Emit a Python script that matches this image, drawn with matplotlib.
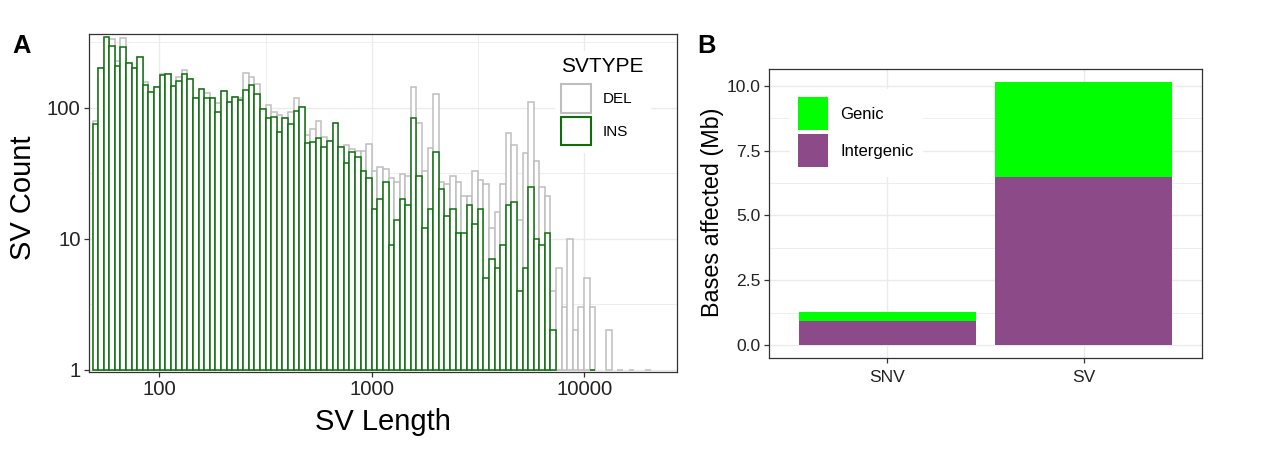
import numpy as np
import matplotlib
matplotlib.use('Agg')
import matplotlib.pyplot as plt
from matplotlib.patches import Patch
from matplotlib.ticker import FixedLocator, NullFormatter

plt.rcParams['font.family'] = ['Liberation Sans', 'DejaVu Sans']

# ---------------- Panel A data: SV length histogram (100 log-spaced bins) ----------------
SV_MIN_LEN = 50
SV_MAX_LEN = 20000
N_BINS = 100
svtype_labels = ['DEL', 'INS']
del_counts = [79, 200, 340, 332, 228, 339, 218, 200, 245, 158,
              132, 143, 182, 182, 146, 171, 194, 166, 119, 138,
              130, 118, 109, 135, 111, 121, 118, 183, 173, 153,
              98, 104, 93, 88, 83, 93, 118, 102, 62, 69,
              79, 60, 56, 77, 50, 52, 48, 47, 47, 53,
              33, 35, 34, 29, 27, 31, 30, 145, 77, 33,
              49, 127, 27, 26, 30, 27, 21, 21, 33, 28,
              26, 12, 16, 26, 64, 52, 14, 45, 111, 39,
              25, 21, 4, 6, 3, 10, 2, 3, 5, 3,
              0, 0, 2, 0, 1, 0, 1, 0, 0, 1]
ins_counts = [75, 200, 348, 296, 209, 289, 218, 200, 245, 150,
              132, 143, 178, 180, 146, 160, 180, 166, 119, 138,
              119, 118, 93, 135, 111, 121, 115, 136, 149, 128,
              98, 83, 85, 65, 83, 75, 95, 102, 54, 55,
              59, 50, 56, 77, 50, 38, 46, 42, 33, 29,
              17, 20, 27, 9, 14, 20, 18, 84, 30, 12,
              17, 46, 24, 15, 17, 11, 11, 18, 13, 17,
              5, 7, 6, 9, 18, 19, 4, 6, 25, 10,
              9, 11, 2, 0, 0, 0, 0, 0, 0, 1,
              0, 0, 0, 0, 0, 0, 0, 0, 0, 0]
len_ticks = [100, 1000, 10000]
count_ticks = [1, 10, 100]

# ---------------- Panel B data ----------------
categories = ['SNV', 'SV']
intergenic_mb = [0.93, 6.49]
genic_mb = [0.33, 3.66]
mb_ticks = [0.0, 2.5, 5.0, 7.5, 10.0]
region_labels = ['Genic', 'Intergenic']

DEL_COLOR = '#BEBEBE'
INS_COLOR = '#0E6E0E'
GENIC_COLOR = '#00FF00'
INTERGENIC_COLOR = '#8C4A89'
GRID = '#EBEBEB'
SPINE = '#333333'
TICKTXT = '#222222'

W, H = 1280, 451
fig = plt.figure(figsize=(W / 100, H / 100), dpi=100)


def fx(px):
    return px / W


def fy(py):
    return 1 - py / H


# ---------------- Panel A ----------------
axA = fig.add_axes([fx(89), fy(371.7), fx(676.7) - fx(89), fy(34) - fy(371.7)])
lo, hi = np.log10(SV_MIN_LEN), np.log10(SV_MAX_LEN)
bw = (hi - lo) / (N_BINS - 1)
edges = 10 ** (lo - bw / 2 + bw * np.arange(N_BINS + 1))
lefts = edges[:-1]
widths = np.diff(edges)
for counts, ec in [(del_counts, DEL_COLOR), (ins_counts, INS_COLOR)]:
    c = np.asarray(counts, dtype=float)
    m = c > 0
    axA.bar(lefts[m], c[m] - 1, bottom=1, width=widths[m], align='edge',
            facecolor='white', edgecolor=ec, linewidth=1.1, zorder=2)

axA.set_xscale('log')
axA.set_yscale('log')
axA.set_xlim(10 ** 1.6692, 10 ** 4.4353)
axA.set_ylim(10 ** -0.0153, 10 ** 2.5626)
axA.xaxis.set_major_locator(FixedLocator(len_ticks))
axA.xaxis.set_ticklabels([str(v) for v in len_ticks])
axA.yaxis.set_major_locator(FixedLocator(count_ticks))
axA.yaxis.set_ticklabels([str(v) for v in count_ticks])
axA.xaxis.set_minor_locator(FixedLocator([10 ** 2.5, 10 ** 3.5]))
axA.yaxis.set_minor_locator(FixedLocator([10 ** 0.5, 10 ** 1.5, 10 ** 2.5]))
axA.xaxis.set_minor_formatter(NullFormatter())
axA.yaxis.set_minor_formatter(NullFormatter())
axA.tick_params(which='minor', length=0)
axA.tick_params(which='major', length=3.6, width=0.9, color=SPINE, labelsize=14.7,
                labelcolor=TICKTXT, pad=2.5)
axA.set_axisbelow(True)
axA.grid(which='major', color=GRID, linewidth=1.0)
axA.grid(which='minor', color=GRID, linewidth=0.6)
for s in axA.spines.values():
    s.set_color(SPINE)
    s.set_linewidth(0.9)

hA = [Patch(facecolor='white', edgecolor=DEL_COLOR, linewidth=1.5, label=svtype_labels[0]),
      Patch(facecolor='white', edgecolor=INS_COLOR, linewidth=1.5, label=svtype_labels[1])]
legA = axA.legend(handles=hA, title='SVTYPE', loc='upper left', bbox_to_anchor=(0.793, 0.951),
                  fontsize=11, title_fontsize=15, handlelength=1.96, handleheight=2.54,
                  handletextpad=0.73, labelspacing=0.26, borderpad=0.4, borderaxespad=0,
                  frameon=True, fancybox=False, edgecolor='white', facecolor='white',
                  framealpha=1, alignment='left')
legA._legend_box.sep = 5.7

# ---------------- Panel B ----------------
axB = fig.add_axes([fx(769), fy(358.3), fx(1201.7) - fx(769), fy(69) - fy(358.3)])
xpos = np.arange(1, len(categories) + 1)
axB.bar(xpos, intergenic_mb, width=0.9, color=INTERGENIC_COLOR, zorder=2)
axB.bar(xpos, genic_mb, bottom=intergenic_mb, width=0.9, color=GENIC_COLOR, zorder=2)
axB.set_xlim(0.4, 2.6)
axB.set_ylim(-0.513, 10.644)
axB.set_xticks(xpos)
axB.set_xticklabels(categories)
axB.yaxis.set_major_locator(FixedLocator(mb_ticks))
axB.set_yticklabels([f'{v:.1f}' for v in mb_ticks])
axB.yaxis.set_minor_locator(FixedLocator([1.25, 3.75, 6.25, 8.75]))
axB.yaxis.set_minor_formatter(NullFormatter())
axB.tick_params(which='minor', length=0)
axB.tick_params(which='major', length=3.6, width=0.9, color=SPINE, labelsize=12.6,
                labelcolor=TICKTXT, pad=2.5)
axB.tick_params(axis='x', pad=4.5)
axB.set_axisbelow(True)
axB.grid(which='major', color=GRID, linewidth=1.0)
axB.grid(which='minor', axis='y', color=GRID, linewidth=0.6)
for s in axB.spines.values():
    s.set_color(SPINE)
    s.set_linewidth(0.9)

hB = [Patch(facecolor=GENIC_COLOR, edgecolor='none', label=region_labels[0]),
      Patch(facecolor=INTERGENIC_COLOR, edgecolor='none', label=region_labels[1])]
axB.legend(handles=hB, loc='upper left', bbox_to_anchor=(0.0485, 0.931),
           fontsize=12, handlelength=1.8, handleheight=2.67, handletextpad=0.72,
           labelspacing=0.24, borderpad=0.5, borderaxespad=0, frameon=True,
           fancybox=False, edgecolor='white', facecolor='white', framealpha=1)

# ---------------- Texts ----------------
fig.text(fx(12.7), fy(53.3), 'A', fontsize=18.4, fontweight='bold', ha='left', va='baseline')
fig.text(fx(697), fy(53.3), 'B', fontsize=18.4, fontweight='bold', ha='left', va='baseline')
fig.text(fx(23), fy(197.5), 'SV Count', rotation=90, fontsize=21, ha='center', va='center')
fig.text(fx(382.8), fy(430), 'SV Length', fontsize=21, ha='center', va='baseline')
fig.text(fx(712.7), fy(212.3), 'Bases affected (Mb)', rotation=90, fontsize=16.8,
         ha='center', va='center')

fig.savefig('out.png', dpi=100)
